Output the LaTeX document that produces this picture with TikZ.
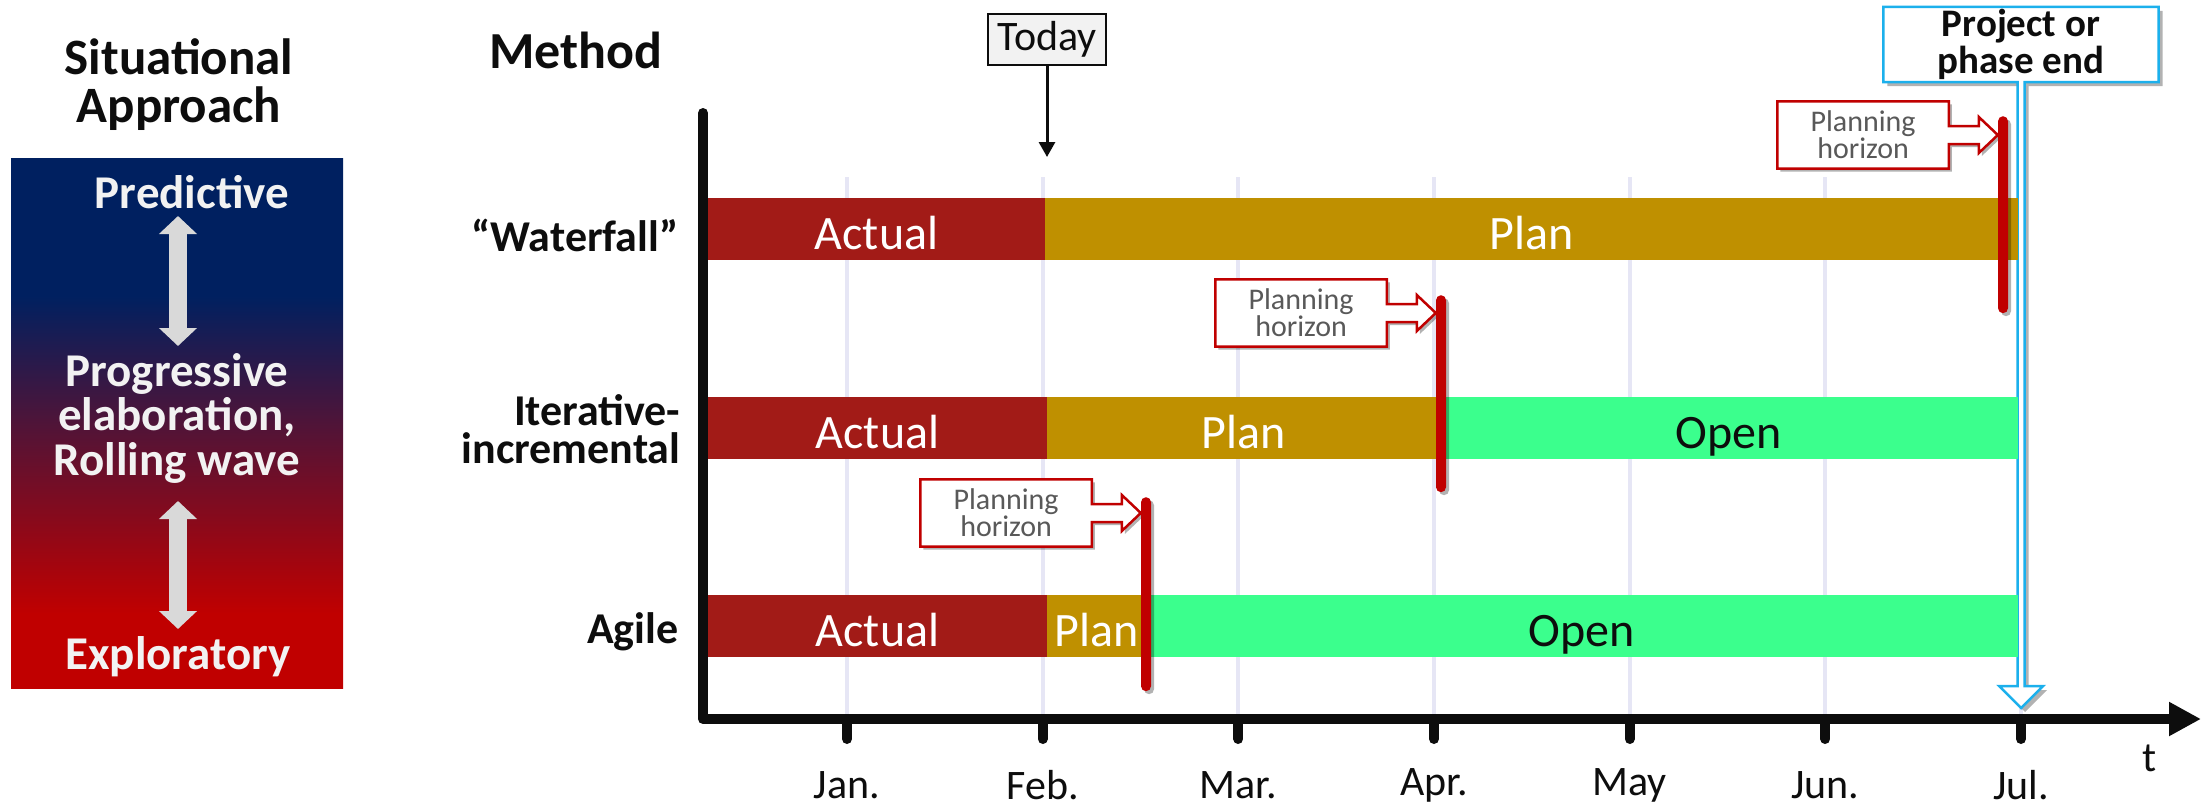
\documentclass[tikz,border=0pt]{standalone}
\usepackage{fontspec}
\setmainfont{Carlito}
\usetikzlibrary{arrows.meta,shadows,calc}
\definecolor{gnavy}{HTML}{002060}
\definecolor{gmid}{HTML}{4F1438}
\definecolor{gred}{HTML}{C00000}
\definecolor{cact}{HTML}{A21B17}
\definecolor{cplan}{HTML}{BF9000}
\definecolor{copen}{HTML}{3BFF8D}
\definecolor{cgrid}{HTML}{E6E6F5}
\definecolor{cred}{HTML}{C00000}
\definecolor{cgtext}{HTML}{595959}
\definecolor{ccyan}{HTML}{1CB0EC}
\definecolor{ctoday}{HTML}{F2F2F2}
\definecolor{cink}{HTML}{0D0D0D}
\definecolor{carrow}{HTML}{D9D9D9}
\definecolor{cwhite}{HTML}{F2F2F2}
\pgfdeclareverticalshading{sitgrad}{100bp}{color(0bp)=(gred); color(32bp)=(gred); color(50bp)=(gmid); color(62bp)=(gnavy); color(100bp)=(gnavy)}
\pgfdeclarelayer{back}
\pgfsetlayers{back,main}
\tikzset{
  bar/.style={anchor=north west, inner sep=0pt, outer sep=0pt, minimum height=62pt,
    text height=40pt, text depth=0pt,
    font=\fontsize{48}{48}\selectfont, text=white},
  rline/.style={fill=cred, rounded corners=5pt, minimum width=10pt, inner sep=0pt, anchor=north,
    drop shadow={shadow xshift=3pt, shadow yshift=-3pt, opacity=0.3, fill=black}},
  phbox/.style={anchor=east, minimum width=171pt, minimum height=67pt, inner sep=0pt,
    align=center, font=\fontsize{30}{27}\selectfont, text=cgtext},
  phout/.style={draw=cred, line width=2.5pt, fill=white, line join=miter,
    drop shadow={shadow xshift=3pt, shadow yshift=-3pt, opacity=0.3, fill=black}},
  peout/.style={draw=ccyan, line width=2.5pt, fill=white, line join=miter,
    drop shadow={shadow xshift=4pt, shadow yshift=-4pt, opacity=0.3, fill=black}},
  gridline/.style={draw=cgrid, line width=4pt},
  axisline/.style={draw=cink, line width=10pt, line join=round},
  tickline/.style={draw=cink, line width=10pt, line cap=round},
  monthlbl/.style={font=\fontsize{42}{42}\selectfont, text=cink},
  methodlbl/.style={anchor=east, align=right, font=\bfseries\fontsize{44}{38}\selectfont, text=cink},
  sittext/.style={align=center, text=cwhite, font=\bfseries\fontsize{47}{44.5}\selectfont},
  dblarrow/.style={draw=carrow, line width=18pt,
    {Triangle[length=18pt,width=37pt]}-{Triangle[length=18pt,width=37pt]}},
}
\begin{document}
\begin{tikzpicture}[x=1pt,y=-1pt]
\useasboundingbox (0,0) rectangle (2202,809);

% ---------- left panel ----------
\node[font=\bfseries\fontsize{51}{48}\selectfont, align=center, text=cink] (sittitle) at (179,85) {Situational\\Approach};
\shade[shading=sitgrad] (11,158) rectangle (343,688);
\node[sittext] (pred) at (192,192) {Predictive};
\node[sittext] (prog) at (177,418) {Progressive\\elaboration,\\Rolling wave};
\node[sittext] (expl) at (178,657) {Exploratory};
\coordinate (a1t) at (178,216);
\coordinate (a1b) at (178,346);
\coordinate (a2t) at (178,501);
\coordinate (a2b) at (178,629);
\draw[dblarrow] (a1t) -- (a1b);
\draw[dblarrow] (a2t) -- (a2b);

% ---------- chart frame ----------
\node[font=\bfseries\fontsize{52}{52}\selectfont, text=cink] (method) at (576,50) {Method};

\foreach \i in {1,...,7} {
  \coordinate (m\i) at ({847+195.667*(\i-1)},719);
}
\begin{pgfonlayer}{back}
  \foreach \i in {1,...,7} {
    \draw[gridline] (m\i |- 0,177) -- (m\i |- 0,714);
  }
\end{pgfonlayer}

\coordinate (O) at (703,719);
\coordinate (ytop) at (703,113);
\coordinate (xend) at (2201,719);
\draw[axisline, line cap=round, -{Triangle[length=32pt,width=32pt]}] (ytop) -- (O) -- (xend);
\foreach \i in {1,...,7} {
  \draw[tickline] (m\i) -- ++(0,20);
}
\node[monthlbl] (l1) at ($(m1)+(0,66)$) {Jan.};
\node[monthlbl] (l2) at ($(m2)+(0,66)$) {Feb.};
\node[monthlbl] (l3) at ($(m3)+(0,66)$) {Mar.};
\node[monthlbl] (l4) at ($(m4)+(0,66)$) {Apr.};
\node[monthlbl] (l5) at ($(m5)+(0,66)$) {May};
\node[monthlbl] (l6) at ($(m6)+(0,66)$) {Jun.};
\node[monthlbl] (l7) at ($(m7)+(0,66)$) {Jul.};
\node[monthlbl] (tlbl) at (2150,758) {t};

% ---------- method labels ----------
\node[methodlbl] (wf) at (682,235) {“Waterfall”};
\node[methodlbl] (it) at (684,429) {Iterative-\\incremental};
\node[methodlbl] (ag) at (682,632) {Agile};

% ---------- bars ----------
\node[bar, fill=cact, minimum width=337pt] (wfA) at (708,198) {Actual};
\node[bar, fill=cplan, minimum width=973pt] (wfP) at (wfA.north east) {Plan};

\node[bar, fill=cact, minimum width=339pt] (itA) at (708,397) {Actual};
\node[bar, fill=cplan, minimum width=393pt] (itP) at (itA.north east) {Plan};
\node[bar, fill=copen, minimum width=578pt, text=cink] (itO) at (itP.north east) {Open};

\node[bar, fill=cact, minimum width=339pt] (agA) at (708,595) {Actual};
\node[bar, fill=cplan, minimum width=99pt] (agP) at (agA.north east) {Plan};
\node[bar, fill=copen, minimum width=872pt, text=cink] (agO) at (agP.north east) {Open};

% ---------- today ----------
\node[draw=cink, line width=2.5pt, fill=ctoday, minimum width=118pt, minimum height=51pt,
      inner sep=0pt, font=\fontsize{42}{42}\selectfont, text=cink] (today) at (1047,39.5) {Today};
\coordinate (todaytip) at (1047,157);
\draw[draw=cink, line width=3pt, -{Triangle[length=15pt,width=16pt]}] (today.south) -- (todaytip);

% ---------- planning horizon markers ----------
\node[rline, minimum height=197pt] (h1) at (2003,116) {};
\node[rline, minimum height=197pt] (h2) at (1441,295) {};
\node[rline, minimum height=194pt] (h3) at (1146,497) {};

\node[phbox] (c1) at ($(h1.north west)+(-49,19)$) {Planning\\horizon};
\node[phbox] (c2) at ($(h2.north west)+(-49,18)$) {Planning\\horizon};
\node[phbox] (c3) at ($(h3.north west)+(-49,16)$) {Planning\\horizon};

\begin{pgfonlayer}{back}
  \foreach \c in {c1,c2,c3} {
    \draw[phout] (\c.north west) -- (\c.north east) -- ($(\c.east)+(0,-9)$)
      -- ($(\c.east)+(30,-9)$) -- ($(\c.east)+(30,-18)$) -- ($(\c.east)+(49,0)$)
      -- ($(\c.east)+(30,18)$) -- ($(\c.east)+(30,9)$) -- ($(\c.east)+(0,9)$)
      -- (\c.south east) -- (\c.south west) -- cycle;
  }
\end{pgfonlayer}

% ---------- project end ----------
\node[minimum width=275pt, minimum height=75pt, inner sep=0pt, align=center,
      font=\bfseries\fontsize{39}{37}\selectfont, text=cink] (pe) at (2021,44.5) {Project or\\phase end};
\coordinate (petip) at ($(m7)+(0,-11)$);
\begin{pgfonlayer}{back}
  \draw[peout] (pe.north west) -- (pe.north east) -- (pe.south east)
    -- ($(pe.south)+(3.5,0)$) -- ($(petip)+(3.5,-22)$) -- ($(petip)+(22,-22)$)
    -- (petip) -- ($(petip)+(-22,-22)$) -- ($(petip)+(-3.5,-22)$)
    -- ($(pe.south)+(-3.5,0)$) -- (pe.south west) -- cycle;
\end{pgfonlayer}
\end{tikzpicture}
\end{document}
